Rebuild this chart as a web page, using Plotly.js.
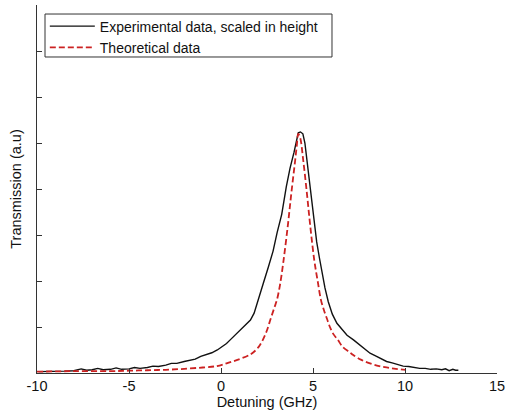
<!DOCTYPE html>
<html>
<head>
<meta charset="utf-8">
<script src="https://cdn.plot.ly/plotly-3.0.1.min.js"></script>
<style>html,body{margin:0;padding:0;background:#fff;}#chart{width:507px;height:419px;}</style>
</head>
<body>
<div id="chart"></div>
<script>
// Experimental data (detuning GHz, transmission a.u.)
const expDetuning = [-9.9,-9.5,-9.0,-8.5,-8.0,-7.6,-7.3,-7.0,-6.7,-6.4,-6.0,-5.7,-5.4,-5.0,-4.7,-4.4,-4.0,-3.7,-3.4,-3.0,-2.7,-2.4,-2.0,-1.7,-1.4,-1.1,-0.8,-0.5,-0.2,0.0,0.3,0.5,0.75,1.0,1.3,1.6,1.8,1.95,2.1,2.3,2.57,2.83,3.05,3.3,3.55,3.75,3.97,4.1,4.2,4.32,4.45,4.56,4.67,4.88,5.08,5.2,5.35,5.5,5.65,5.83,6.05,6.3,6.55,6.85,7.2,7.5,7.8,8.1,8.4,8.7,9.0,9.3,9.6,9.9,10.2,10.5,10.8,11.1,11.4,11.7,12.0,12.2,12.4,12.6,12.75,12.9];
const expValues   = [0.03,0.03,0.04,0.04,0.05,0.09,0.06,0.07,0.10,0.07,0.08,0.11,0.08,0.09,0.12,0.10,0.12,0.15,0.14,0.17,0.21,0.21,0.25,0.28,0.30,0.36,0.40,0.44,0.50,0.55,0.64,0.72,0.82,0.93,1.03,1.15,1.30,1.51,1.70,1.95,2.30,2.65,3.05,3.45,4.05,4.45,4.80,5.05,5.22,5.24,5.20,5.00,4.62,3.90,3.18,2.85,2.50,2.15,1.85,1.55,1.28,1.08,0.95,0.82,0.72,0.62,0.52,0.43,0.37,0.31,0.25,0.22,0.18,0.15,0.14,0.12,0.10,0.10,0.08,0.09,0.07,0.09,0.05,0.08,0.06,0.06];

// Theoretical data
const theoDetuning = [-10,-8,-6,-5,-4,-3,-2,-1,-0.24,0.3,0.85,1.58,1.9,2.1,2.3,2.5,2.7,2.9,3.04,3.2,3.4,3.63,3.82,4.03,4.12,4.2,4.3,4.47,4.67,4.85,5.07,5.27,5.43,5.6,5.76,5.92,6.1,6.35,6.63,7.0,7.19,7.6,8.1,8.6,9.0,9.5,10.05];
const theoValues   = [0.03,0.04,0.04,0.05,0.06,0.07,0.09,0.12,0.15,0.21,0.28,0.40,0.50,0.60,0.74,0.93,1.18,1.42,1.59,1.90,2.45,3.20,3.90,4.62,4.95,5.20,5.12,4.62,3.90,3.20,2.45,1.96,1.59,1.36,1.18,1.00,0.85,0.72,0.56,0.45,0.39,0.29,0.21,0.15,0.12,0.09,0.07];

const xTicks = [-10,-5,0,5,10,15];
const yTicks = [0,1,2,3,4,5,6,7,8];

const traces = [
  {x: expDetuning, y: expValues, type: 'scatter', mode: 'lines',
   name: 'Experimental data, scaled in height',
   line: {color: '#111111', width: 1.4}},
  {x: theoDetuning, y: theoValues, type: 'scatter', mode: 'lines',
   name: 'Theoretical data', line: {color: '#cc2222', width: 1.8, dash: '6px,3px', shape: 'spline'}}
];

const layout = {
  width: 507, height: 419,
  margin: {l: 37, r: 10, t: 5, b: 46},
  paper_bgcolor: '#ffffff', plot_bgcolor: '#ffffff',
  font: {family: 'Liberation Sans, Arial, sans-serif', size: 14, color: '#222'},
  showlegend: true,
  legend: {x: 0.017, y: 0.985, xanchor: 'left', yanchor: 'top',
           bgcolor: 'rgba(0,0,0,0)', borderwidth: 0,
           font: {size: 14, color: '#111'}, itemwidth: 45, tracegroupgap: 0},
  shapes: [{type: 'rect', xref: 'paper', yref: 'paper',
            x0: 0.0174, x1: 0.6413, y0: 0.8587, y1: 0.9755,
            line: {color: '#333', width: 1}, fillcolor: 'rgba(0,0,0,0)', layer: 'above'}],
  xaxis: {range: [-10, 15], tickvals: xTicks, ticktext: xTicks.map(String),
          ticks: 'inside', ticklen: 5, tickcolor: '#333',
          showline: true, linecolor: '#333', linewidth: 1, mirror: false,
          showgrid: false, zeroline: false,
          tickfont: {size: 14.5, color: '#111'},
          title: {text: 'Detuning (GHz)', font: {size: 14.5, color: '#111'}, standoff: 3}},
  yaxis: {range: [0, 8], tickvals: yTicks, showticklabels: false,
          ticks: 'inside', ticklen: 5, tickcolor: '#333',
          showline: true, linecolor: '#333', linewidth: 1, mirror: false,
          showgrid: false, zeroline: false,
          title: {text: 'Transmission (a.u)', font: {size: 14.5, color: '#111'}, standoff: 10}}
};

Plotly.newPlot('chart', traces, layout, {displayModeBar: false, staticPlot: true});
</script>
</body>
</html>
